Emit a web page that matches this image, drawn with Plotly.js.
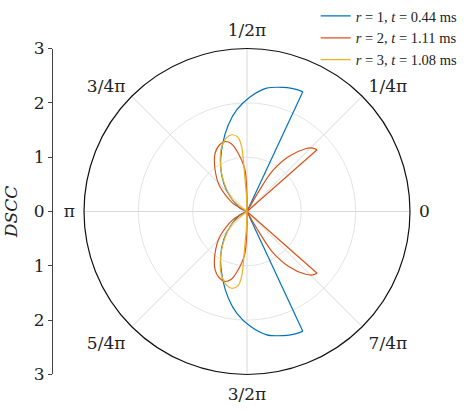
<!DOCTYPE html>
<html>
<head>
<meta charset="utf-8">
<script src="https://cdn.plot.ly/plotly-3.0.1.min.js"></script>
<style>
  html, body { margin: 0; padding: 0; background: #fff; }
  #plotDiv { width: 474px; height: 410px; }
</style>
</head>
<body>
<div id="plotDiv"></div>
<script>
// upper half of each curve (theta in degrees, DSCC); lower half is the mirror image
var thetaR1 = [65, 65, 66.3, 70, 73.7, 80.9, 88.5, 95.8, 102.2, 109.6, 120.4, 130, 139, 155, 170];
var dsccR1 = [0, 2.43, 2.43, 2.41, 2.38, 2.30, 2.11, 1.88, 1.63, 1.33, 0.96, 0.66, 0.40, 0.14, 0];

var thetaR2 = [41.4, 41.4, 44, 47, 52.8, 58, 59.7, 62, 88, 90, 92.8, 98.5, 103, 107.5, 113, 118.8, 127, 137.4, 150, 165];
var dsccR2 = [0, 1.72, 1.68, 1.58, 1.27, 0.87, 0.43, 0, 0, 0.28, 0.77, 1.08, 1.28, 1.35, 1.32, 1.22, 0.98, 0.68, 0.30, 0];

var thetaR3 = [90, 92, 93.6, 94.7, 97, 101.3, 106, 111.3, 118, 127, 140, 160];
var dsccR3 = [0, 0.30, 0.58, 1.20, 1.38, 1.44, 1.40, 1.28, 1.05, 0.73, 0.35, 0];

var seriesNames = [
  '<i>r</i> = 1, <i>t</i> = 0.44 ms',
  '<i>r</i> = 2, <i>t</i> = 1.11 ms',
  '<i>r</i> = 3, <i>t</i> = 1.08 ms'
];
var seriesColors = ['#0072BD', '#D95319', '#EDB120'];

var angleTicks = [0, 45, 90, 135, 180, 225, 270, 315];
var angleLabels = ['0', '1/4π', '1/2π', '3/4π', 'π', '5/4π', '3/2π', '7/4π'];
var dsccTicks = [-3, -2, -1, 0, 1, 2, 3];
var dsccLabels = ['3', '2', '1', '0', '1', '2', '3'];

var allTheta = [thetaR1, thetaR2, thetaR3];
var allDscc = [dsccR1, dsccR2, dsccR3];

// mirror the upper half into the lower half (theta -> -theta), going back the other way
function mirrored(th, r) {
  var t2 = th.slice(), r2 = r.slice();
  for (var i = th.length - 1; i >= 0; i--) {
    t2.push(-th[i]);
    r2.push(r[i]);
  }
  return { theta: t2, r: r2 };
}

var data = [];
allTheta.forEach(function (th, i) {
  var r = allDscc[i];
  // a curve that starts with a radial edge: draw the edge straight, the rest smooth
  var hasEdge = th[0] === th[1];
  var start = hasEdge ? 1 : 0;
  var c = mirrored(th.slice(start), r.slice(start));
  data.push({
    type: 'scatterpolar',
    mode: 'lines',
    theta: c.theta,
    r: c.r,
    name: seriesNames[i],
    legendgroup: 'g' + i,
    line: { color: seriesColors[i], width: 1.2, shape: 'spline', smoothing: 0.8 },
    hoverinfo: 'skip'
  });
  if (hasEdge) {
    data.push({
      type: 'scatterpolar',
      mode: 'lines',
      theta: [th[1], th[0], null, -th[0], -th[1]],
      r: [r[1], r[0], null, r[0], r[1]],
      legendgroup: 'g' + i,
      showlegend: false,
      line: { color: seriesColors[i], width: 1.2 },
      hoverinfo: 'skip'
    });
  }
});

// empty cartesian trace so the left DSCC axis gets drawn
data.push({ type: 'scatter', x: [], y: [], xaxis: 'x', yaxis: 'y', showlegend: false, hoverinfo: 'skip' });

var serif = 'DejaVu Serif, Liberation Serif, serif';
var legendSerif = 'Liberation Serif, DejaVu Serif, serif';

var layout = {
  width: 474,
  height: 410,
  margin: { t: 0, b: 0, l: 0, r: 0 },
  paper_bgcolor: '#fff',
  plot_bgcolor: 'rgba(0,0,0,0)',
  font: { family: serif, size: 17, color: '#222' },
  showlegend: true,
  legend: {
    x: 0.666, y: 1.0, xanchor: 'left', yanchor: 'top',
    bgcolor: 'rgba(0,0,0,0)',
    font: { family: legendSerif, size: 14.5, color: '#222' },
    tracegroupgap: 0
  },
  polar: {
    domain: { x: [0.1772, 0.865], y: [0.0866, 0.8817] },
    bgcolor: 'rgba(0,0,0,0)',
    radialaxis: {
      range: [0, 3],
      tickvals: [1, 2, 3],
      showticklabels: false,
      ticks: '',
      showline: false,
      gridcolor: '#e4e4e4',
      gridwidth: 1
    },
    angularaxis: {
      direction: 'counterclockwise',
      rotation: 0,
      tickvals: angleTicks,
      ticktext: angleLabels,
      ticks: 'outside',
      ticklen: 5,
      tickcolor: 'rgba(0,0,0,0)',
      showline: true,
      linecolor: '#111',
      linewidth: 1.2,
      gridcolor: '#d8d8d8',
      gridwidth: 1,
      tickfont: { family: serif, size: 17, color: '#222' }
    }
  },
  xaxis: {
    domain: [0.11, 0.12],
    visible: false,
    range: [0, 1]
  },
  yaxis: {
    domain: [0.0866, 0.8817],
    anchor: 'free',
    position: 0.1097,
    range: [-3, 3],
    tickvals: dsccTicks,
    ticktext: dsccLabels,
    ticks: 'outside',
    ticklen: 4,
    tickcolor: '#444',
    showline: true,
    linecolor: '#444',
    linewidth: 1,
    showgrid: false,
    zeroline: false,
    tickfont: { family: serif, size: 17, color: '#222' },
    title: { text: '<i>DSCC</i>', font: { family: serif, size: 17, color: '#222' }, standoff: 10 }
  }
};

Plotly.newPlot('plotDiv', data, layout, { displayModeBar: false, staticPlot: true });
</script>
</body>
</html>
